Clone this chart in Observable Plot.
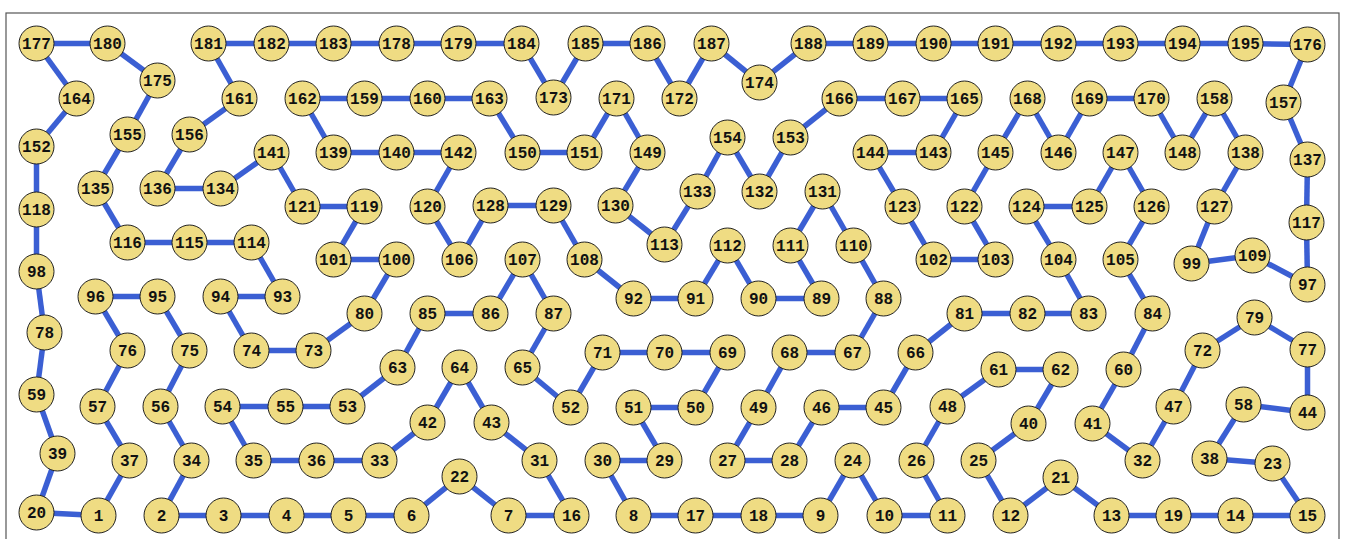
<!DOCTYPE html>
<html>
<head>
<meta charset="utf-8">
<script src="https://cdn.jsdelivr.net/npm/d3@7"></script>
<script src="https://cdn.jsdelivr.net/npm/@observablehq/plot@0.6"></script>
<style>
  html, body { margin: 0; padding: 0; background: #fff; overflow: hidden; }
  #chart svg { display: block; }
</style>
</head>
<body>
<div id="chart"></div>
<script>
// Node labels and their positions (layout units)
const nodeIds = [];
for (let i = 1; i <= 195; i++) nodeIds.push(i);
const nodeX = [98,161,223,286,348,411,508,633,820,884,947,1010,1111,1235,1307,571,695,758,1173,36,
  1060,459,1272,852,978,916,727,789,664,602,539,1142,379,191,253,316,129,1209,57,1028,
  1092,427,491,1307,883,821,1173,947,758,695,633,570,347,222,285,160,97,1243,36,1123,
  998,1060,397,459,522,915,852,789,727,664,602,1202,313,251,189,127,1307,44,1254,364,
  964,1027,1088,1152,427,490,553,883,821,758,695,633,282,220,157,95,1307,36,1191,396,
  333,933,995,1058,1120,459,522,584,1252,853,790,727,664,251,189,127,1306,36,364,427,
  302,964,902,1026,1089,1151,1214,490,553,615,822,759,697,220,95,157,1307,1245,333,396,
  271,458,933,870,995,1058,1120,1182,647,522,584,36,790,727,127,189,1283,1214,364,427,
  239,302,489,76,964,839,902,1027,1089,1151,616,679,553,759,157,1307,36,396,458,107,
  208,271,333,521,585,647,711,808,870,933,995,1058,1120,1182,1245];
const nodeY = [515,515,515,515,515,515,515,515,515,515,515,515,515,515,515,515,515,515,515,512,
  477,476,463,460,460,460,460,460,460,460,460,460,460,460,460,460,460,458,453,423,
  423,422,422,412,407,407,406,406,407,407,407,407,406,406,406,406,406,404,394,369,
  369,369,367,367,367,352,352,352,352,352,352,350,350,350,350,350,349,332,317,313,
  313,313,313,313,313,313,313,298,298,298,298,298,296,296,296,296,284,271,263,259,
  259,259,259,259,259,259,259,259,255,245,245,245,244,242,242,242,222,209,206,206,
  206,206,206,206,206,206,206,205,205,205,191,191,191,188,188,188,159,152,152,152,
  152,152,152,152,152,152,152,152,152,152,152,146,137,137,134,134,102,98,98,98,
  98,98,98,98,98,98,98,98,98,98,98,98,97,82,80,44,43,43,43,43,
  43,43,43,43,43,43,43,43,43,43,43,43,43,43,43];

// The closed tour through all nodes
const tour = [181,182,183,178,179,184,173,185,186,172,187,174,188,189,190,191,192,193,194,195,
  176,157,137,117,97,109,99,127,138,158,148,170,169,146,168,145,122,103,102,123,
  144,143,165,167,166,153,132,154,133,113,130,149,171,151,150,163,160,159,162,139,
  140,142,120,106,128,129,108,92,91,112,90,89,111,131,110,88,67,68,49,27,
  28,46,45,66,81,82,83,104,124,125,147,126,105,84,60,41,32,47,72,79,
  77,44,58,38,23,15,14,19,13,21,12,25,40,62,61,48,26,11,10,24,
  9,18,17,8,30,29,51,50,69,70,71,52,65,87,107,86,85,63,53,55,
  54,35,36,33,42,64,43,31,16,7,22,6,5,4,3,2,34,56,75,95,
  96,76,57,37,1,20,39,59,78,98,118,152,164,177,180,175,155,135,116,115,
  114,93,94,74,73,80,100,101,119,121,141,134,136,156,161];

const nodes = nodeIds.map((id, i) => ({id, x: nodeX[i], y: nodeY[i]}));
const byId = new Map(nodes.map(d => [d.id, d]));
const edges = tour.map((id, i) => ({a: byId.get(id), b: byId.get(tour[(i + 1) % tour.length])}));

const W = 1345, H = 560;
const chart = Plot.plot({
  width: W,
  height: H,
  margin: 0,
  x: {domain: [0, W], axis: null},
  y: {domain: [H, 0], axis: null},
  marks: [
    Plot.frame({stroke: "#555", strokeWidth: 1.2, insetLeft: 5.5, insetTop: 12.5, insetRight: 6.5, insetBottom: 6}),
    Plot.link(edges, {
      x1: d => d.a.x, y1: d => d.a.y, x2: d => d.b.x, y2: d => d.b.y,
      stroke: "#3b5fd3", strokeWidth: 5.5, strokeLinecap: "butt"
    }),
    Plot.dot(nodes, {x: "x", y: "y", r: 17.5, fill: "#efdc83", stroke: "#222", strokeWidth: 1, fillOpacity: 1}),
    Plot.text(nodes, {
      x: "x", y: "y", text: d => String(d.id),
      fontFamily: "'Liberation Mono', 'Courier New', monospace",
      fontWeight: "bold", fontSize: 16, fill: "#111"
    })
  ]
});
document.getElementById("chart").appendChild(chart);
</script>
</body>
</html>
